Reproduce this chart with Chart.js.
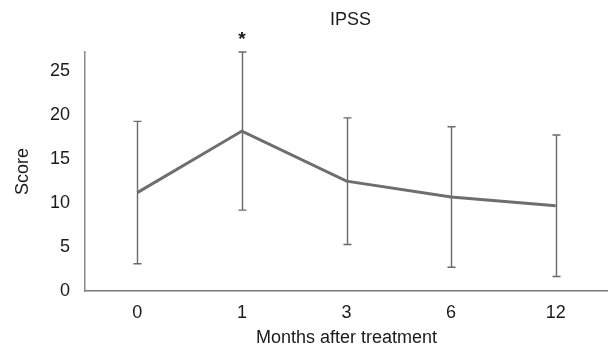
<!DOCTYPE html>
<html>
<head>
<meta charset="utf-8">
<script src="https://cdn.jsdelivr.net/npm/chart.js@4/dist/chart.umd.min.js"></script>
<style>
html,body{margin:0;padding:0;background:#fff;}
#wrap{width:608px;height:353px;position:relative;}
</style>
</head>
<body>
<div id="wrap"><canvas id="c" width="608" height="353"></canvas></div>
<script>
const categories = ["0", "1", "3", "6", "12"];
const meanScore = [11.2, 18.2, 12.5, 10.7, 9.7];
const sdScore = [8.1, 9.0, 7.2, 8.0, 8.05];
const significance = ["", "*", "", "", ""];
const yTicks = [0, 5, 10, 15, 20, 25];
const chartTitle = "IPSS";
const xTitle = "Months after treatment";
const yTitle = "Score";

const FONT = "'Liberation Sans', Arial, sans-serif";

const extras = {
  id: 'extras',
  beforeDatasetsDraw(chart) {
    const ctx = chart.ctx;
    const xs = chart.scales.x, ys = chart.scales.y;
    ctx.save();
    ctx.strokeStyle = '#6a6a6a';
    ctx.lineWidth = 1.4;
    meanScore.forEach((m, i) => {
      const x = Math.round(xs.getPixelForValue(i)) + 0.5;
      const yt = ys.getPixelForValue(m + sdScore[i]);
      const yb = ys.getPixelForValue(m - sdScore[i]);
      ctx.beginPath();
      ctx.moveTo(x, yt); ctx.lineTo(x, yb);
      ctx.moveTo(x - 4, yt); ctx.lineTo(x + 4, yt);
      ctx.moveTo(x - 4, yb); ctx.lineTo(x + 4, yb);
      ctx.stroke();
    });
    ctx.restore();
  },
  afterDraw(chart) {
    const ctx = chart.ctx;
    const xs = chart.scales.x, ys = chart.scales.y;
    const ca = chart.chartArea;
    ctx.save();
    ctx.fillStyle = '#1a1a1a';
    ctx.textAlign = 'center';
    ctx.textBaseline = 'middle';
    ctx.font = "18px " + FONT;
    ctx.fillText(chartTitle, (ca.left + ca.right) / 2 + 4, 20);
    ctx.font = "bold 19px " + FONT;
    significance.forEach((s, i) => {
      if (!s) return;
      const x = xs.getPixelForValue(i);
      const yt = ys.getPixelForValue(meanScore[i] + sdScore[i]);
      ctx.fillText(s, x, yt - 12);
    });
    ctx.restore();
  }
};

new Chart(document.getElementById('c'), {
  type: 'line',
  data: {
    labels: categories,
    datasets: [{
      data: meanScore,
      borderColor: '#6e6e6e',
      borderWidth: 3,
      pointRadius: 0,
      tension: 0,
      fill: false
    }]
  },
  options: {
    responsive: false,
    animation: false,
    layout: { padding: { top: 52, left: 8, right: 0, bottom: 0 } },
    plugins: { legend: { display: false }, tooltip: { enabled: false } },
    scales: {
      x: {
        offset: true,
        grid: { display: false, drawTicks: false },
        border: { display: true, color: '#7a7a7a', width: 1.5 },
        ticks: { color: '#1a1a1a', font: { family: FONT, size: 18 }, padding: 11 },
        title: { display: true, text: xTitle, color: '#1a1a1a', font: { family: FONT, size: 18 }, padding: { top: 4 } },
        afterFit(s) { s.height = 62; }
      },
      y: {
        min: 0, max: 27.2,
        grid: { display: false, drawTicks: false },
        border: { display: true, color: '#8a8a8a', width: 1.5 },
        afterBuildTicks(s) { s.ticks = yTicks.map(v => ({ value: v })); },
        ticks: { color: '#1a1a1a', font: { family: FONT, size: 18 }, padding: 15 },
        title: { display: true, text: yTitle, color: '#1a1a1a', font: { family: FONT, size: 18 } },
        afterFit(s) { s.width = 77; }
      }
    }
  },
  plugins: [extras]
});
</script>
</body>
</html>
